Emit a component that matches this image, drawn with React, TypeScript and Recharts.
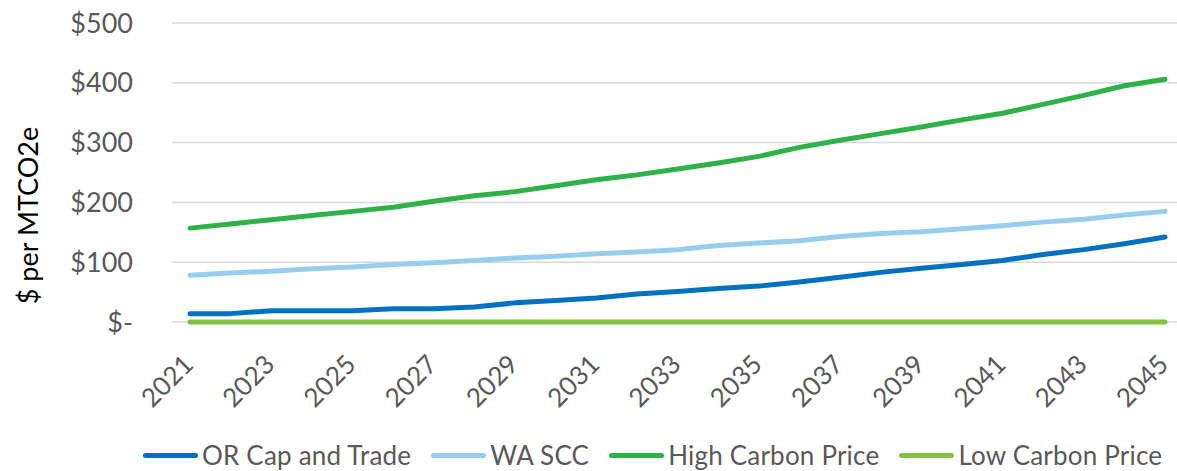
import { LineChart, Line, XAxis, YAxis, CartesianGrid, Legend } from 'recharts';

const years = [
  2021, 2022, 2023, 2024, 2025, 2026, 2027, 2028, 2029, 2030, 2031, 2032, 2033,
  2034, 2035, 2036, 2037, 2038, 2039, 2040, 2041, 2042, 2043, 2044, 2045,
];
const orCapAndTrade = [14, 14, 19, 19, 19, 22, 22, 25, 32, 36, 40, 47, 51, 56, 60, 67, 75, 83, 90, 96, 103, 113, 121, 131, 142];
const waScc = [78, 82, 85, 89, 92, 96, 99, 103, 107, 110, 114, 117, 121, 128, 132, 136, 143, 148, 151, 156, 161, 167, 172, 179, 185];
const highCarbon = [157, 164, 171, 178, 185, 192, 202, 211, 218, 228, 238, 246, 256, 266, 277, 292, 304, 315, 326, 338, 349, 364, 379, 395, 406];
const lowCarbon = [0, 0, 0, 0, 0, 0, 0, 0, 0, 0, 0, 0, 0, 0, 0, 0, 0, 0, 0, 0, 0, 0, 0, 0, 0];
const yTicks = [0, 100, 200, 300, 400, 500];

const series = [
  { key: 'or', name: 'OR Cap and Trade', color: '#0070C0' },
  { key: 'wa', name: 'WA SCC', color: '#97CEF0' },
  { key: 'high', name: 'High Carbon Price', color: '#2DB248' },
  { key: 'low', name: 'Low Carbon Price', color: '#83C241' },
];

const data = years.map((year, i) => ({
  year: String(year),
  or: orCapAndTrade[i],
  wa: waScc[i],
  high: highCarbon[i],
  low: lowCarbon[i],
}));

const FONT = 'Lato, "Open Sans", sans-serif';

const XTick = ({ x, y, payload }: any) => {
  const tx = x + 5;
  const ty = y + 36;
  return (
    <text
      x={tx}
      y={ty}
      transform={`rotate(-45 ${tx} ${ty})`}
      textAnchor="end"
      fill="#595959"
      fontSize={26}
      fontFamily={FONT}
    >
      {payload.value}
    </text>
  );
};

const YLabel = ({ viewBox }: any) => {
  const cx = (viewBox?.x ?? 0) + 27;
  const cy = (viewBox?.y ?? 23) + (viewBox?.height ?? 299) / 2 + 43;
  return (
    <text
      x={cx}
      y={cy}
      transform={`rotate(-90 ${cx} ${cy})`}
      textAnchor="middle"
      dominantBaseline="central"
      fill="#000000"
      fontSize={27}
      fontFamily={FONT}
    >
      $ per MTCO2e
    </text>
  );
};

const LegendContent = () => (
  <div style={{ display: 'flex', alignItems: 'center', height: 40, paddingTop: 8, boxSizing: 'border-box', fontFamily: FONT, fontSize: 26, letterSpacing: 0.2, color: '#595959', whiteSpace: 'nowrap' }}>
    {series.map((s) => (
      <div key={s.key} style={{ display: 'flex', alignItems: 'center', marginRight: 20 }}>
        <span style={{ display: 'inline-block', width: 55, height: 5, borderRadius: 3, backgroundColor: s.color, marginRight: 4 }} />
        <span style={{ lineHeight: '32px' }}>{s.name}</span>
      </div>
    ))}
  </div>
);

const App = () => {
  return (
    <div>
      <style>{'body{margin:0;}'}</style>
      <LineChart width={1177} height={471} data={data} margin={{ top: 23, right: 0, left: 0, bottom: 0 }}>
        <CartesianGrid vertical={false} stroke="#D9D9D9" strokeWidth={1.5} />
        <XAxis
          dataKey="year"
          interval={1}
          axisLine={false}
          tickLine={false}
          height={109}
          padding={{ left: 18, right: 12 }}
          tick={<XTick />}
        />
        <YAxis
          domain={[0, 500]}
          ticks={yTicks}
          width={172}
          axisLine={false}
          tickLine={false}
          tickMargin={33}
          tick={{ fill: '#595959', fontSize: 27, fontFamily: FONT }}
          tickFormatter={(v: number) => (v === 0 ? '$-' : `$${v}`)}
          label={<YLabel />}
        />
        <Legend
          verticalAlign="bottom"
          align="left"
          content={<LegendContent />}
          wrapperStyle={{ left: 143, width: 1034 }}
        />
        {series.map((s) => (
          <Line
            key={s.key}
            type="linear"
            dataKey={s.key}
            name={s.name}
            stroke={s.color}
            strokeWidth={5}
            strokeLinecap="round"
            strokeLinejoin="round"
            dot={false}
            activeDot={false}
            isAnimationActive={false}
          />
        ))}
      </LineChart>
    </div>
  );
};

export default App;
